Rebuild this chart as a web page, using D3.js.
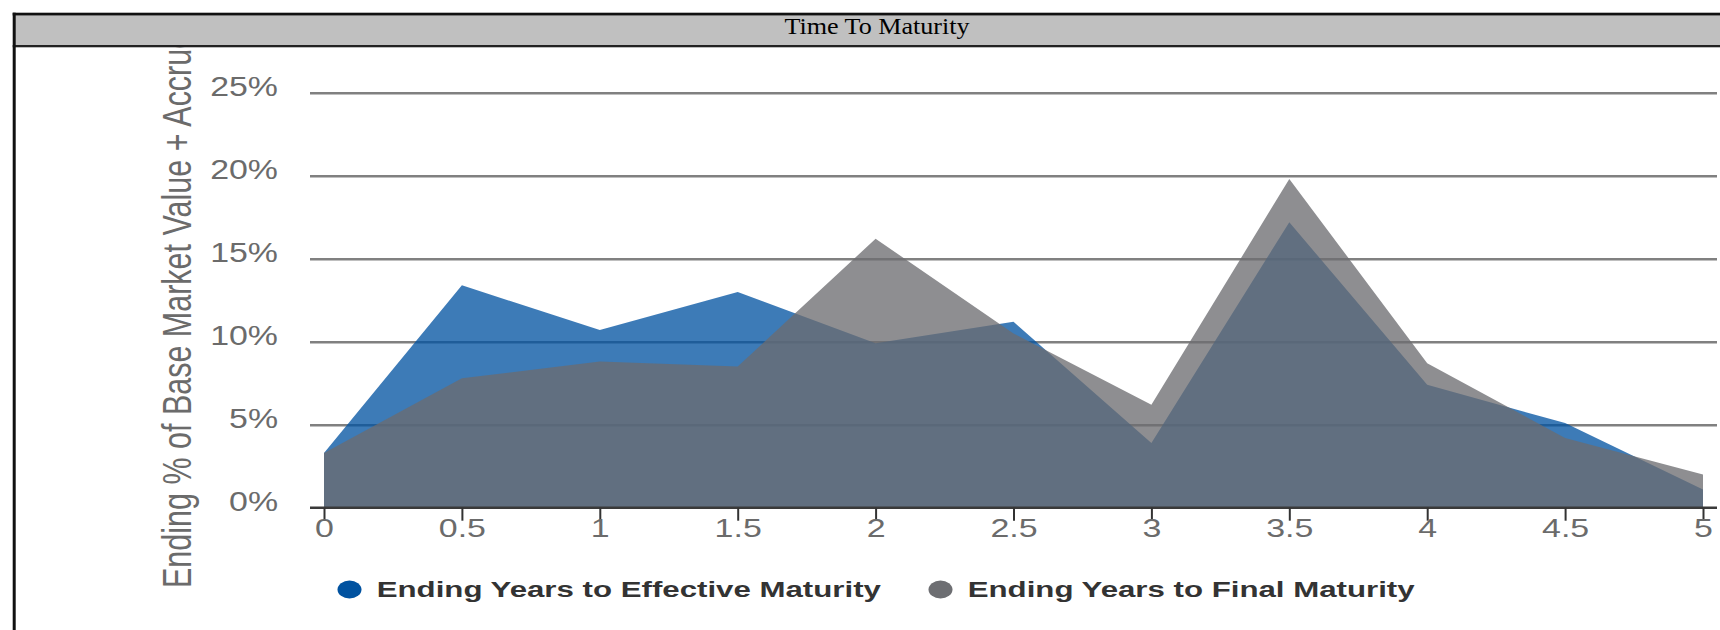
<!DOCTYPE html>
<html>
<head>
<meta charset="utf-8">
<script src="https://cdn.jsdelivr.net/npm/d3@7"></script>
<style>
  html, body { margin: 0; padding: 0; background: #fff; }
  svg { display: block; }
</style>
</head>
<body>
<svg id="chart" width="1720" height="630"></svg>
<script>
// ---- data ----
const years = [0, 0.5, 1, 1.5, 2, 2.5, 3, 3.5, 4, 4.5, 5];
const effectiveMaturity = [3.3, 13.4, 10.7, 13.0, 9.9, 11.2, 3.9, 17.2, 7.4, 5.1, 1.1];
const finalMaturity = [3.3, 7.8, 8.8, 8.5, 16.2, 10.5, 6.2, 19.8, 8.7, 4.2, 2.0];
const yTicks = [0, 5, 10, 15, 20, 25];
const xTickLabels = ["0", "0.5", "1", "1.5", "2", "2.5", "3", "3.5", "4", "4.5", "5"];
const seriesNames = ["Ending Years to Effective Maturity", "Ending Years to Final Maturity"];
const chartTitle = "Time To Maturity";
const yTitle = "Ending % of Base Market Value + Accrued Interest";

const svg = d3.select("#chart");
const SANS = "'Liberation Sans', Arial, Helvetica, sans-serif";
const SERIF = "'Liberation Serif', 'Times New Roman', serif";

function stretch(sel, f) {
  sel.each(function () {
    const L = this.getComputedTextLength();
    this.setAttribute("textLength", L * f);
    this.setAttribute("lengthAdjust", "spacingAndGlyphs");
  });
}

const x = d3.scaleLinear().domain([0, 5]).range([324, 1703]);
const y = d3.scaleLinear().domain([0, 25]).range([507.7, 92.7]);
const gridLeft = 310, gridRight = 1717;

// ---- y title (clipped under header) ----
svg.append("clipPath").attr("id", "below-header")
  .append("rect").attr("x", 0).attr("y", 47).attr("width", 1720).attr("height", 600);
svg.append("g").attr("clip-path", "url(#below-header)")
  .append("text")
  .attr("transform", "translate(191,588) scale(1.33,1) rotate(-90)")
  .attr("text-anchor", "start")
  .style("font-family", SANS).style("font-size", "30.5px").style("fill", "#6b6b6b")
  .text(yTitle);

// ---- y axis + gridlines ----
const yAxis = svg.append("g")
  .attr("transform", `translate(${gridLeft},0)`)
  .call(d3.axisLeft(y).tickValues(yTicks.filter(d => d > 0))
    .tickSize(-(gridRight - gridLeft)).tickPadding(32)
    .tickFormat(d => d + "%"));
yAxis.select(".domain").remove();
yAxis.selectAll(".tick line").attr("stroke", "#808080").attr("stroke-width", 2.5);
yAxis.selectAll(".tick text")
  .attr("dy", "0.1em")
  .style("font-family", SANS).style("font-size", "28px").style("fill", "#6b6b6b");
// 0% label (sits at axis)
const yAxis0 = svg.append("g")
  .attr("transform", `translate(${gridLeft},0)`)
  .call(d3.axisLeft(y).tickValues([0]).tickSize(0).tickPadding(32).tickFormat(d => d + "%"));
yAxis0.select(".domain").remove();
yAxis0.selectAll(".tick text")
  .attr("dy", "0.1em")
  .style("font-family", SANS).style("font-size", "28px").style("fill", "#6b6b6b");
stretch(svg.selectAll("g.tick text"), 1.21);

// ---- areas ----
const area = vals => d3.area()
  .x((d, i) => x(years[i]))
  .y0(y(0))
  .y1(d => y(d))(vals);

svg.append("path").attr("d", area(effectiveMaturity))
  .attr("fill", "#0052a0").attr("fill-opacity", 0.76);
svg.append("path").attr("d", area(finalMaturity))
  .attr("fill", "#6c6c70").attr("fill-opacity", 0.77);

// ---- x axis ----
svg.append("line")
  .attr("x1", gridLeft).attr("x2", gridRight)
  .attr("y1", y(0)).attr("y2", y(0))
  .attr("stroke", "#3a3a3a").attr("stroke-width", 2.5);
const xAxis = svg.append("g")
  .attr("transform", `translate(0,${y(0)})`)
  .call(d3.axisBottom(x).tickValues(years).tickSize(13).tickPadding(-2.5)
    .tickFormat((d, i) => xTickLabels[i]));
xAxis.select(".domain").remove();
xAxis.selectAll(".tick line").attr("stroke", "#333").attr("stroke-width", 2);
const xt = xAxis.selectAll(".tick text")
  .style("font-family", SANS).style("font-size", "26.5px").style("fill", "#6b6b6b");
stretch(xt, 1.28);

// ---- legend ----
const legendColors = ["#0052a0", "#6d6e72"];
const legendX = [349.5, 940.5];
const lg = svg.append("g");
seriesNames.forEach((name, i) => {
  lg.append("ellipse")
    .attr("cx", legendX[i]).attr("cy", 589.5).attr("rx", 12).attr("ry", 9)
    .attr("fill", legendColors[i]);
  const t = lg.append("text")
    .attr("x", legendX[i] + 27.2).attr("y", 596.7)
    .style("font-family", SANS).style("font-size", "22.3px")
    .style("font-weight", "bold").style("fill", "#333")
    .text(name);
  stretch(t, 1.4);
});

// ---- header / frame ----
svg.append("rect").attr("x", 13).attr("y", 15.5).attr("width", 1720).attr("height", 29.5)
  .attr("fill", "#c0c0c0");
svg.append("rect").attr("x", 12.7).attr("y", 12.7).attr("width", 1720).attr("height", 2.8)
  .attr("fill", "#111");
svg.append("rect").attr("x", 12.7).attr("y", 45).attr("width", 1720).attr("height", 2.3)
  .attr("fill", "#222");
svg.append("rect").attr("x", 12.7).attr("y", 12.7).attr("width", 3).attr("height", 620)
  .attr("fill", "#111");
const title = svg.append("text")
  .attr("x", 877).attr("y", 34.3).attr("text-anchor", "middle")
  .style("font-family", SERIF).style("font-size", "22.7px").style("fill", "#000")
  .text(chartTitle);
stretch(title, 1.15);
</script>
</body>
</html>
